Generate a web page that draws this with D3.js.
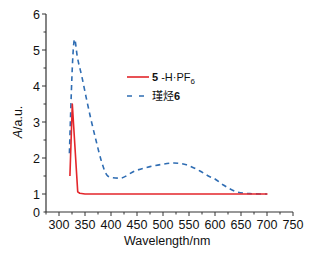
<!DOCTYPE html>
<html>
<head>
<meta charset="utf-8">
<script src="https://cdn.jsdelivr.net/npm/d3@7"></script>
<style>
  html, body { margin: 0; padding: 0; background: #fff; }
  svg { display: block; font-family: "Liberation Sans", Arial, sans-serif; }
</style>
</head>
<body>
<svg id="chart" width="314" height="259"></svg>
<script>
// ---- data ----
const redWavelength = [321, 325.6, 336, 340, 350, 400, 500, 600, 701];
const redValues     = [1.5, 3.5, 1.06, 1.02, 1.0, 1.0, 1.0, 1.0, 1.0];

const blueWavelength = [320, 330, 335, 344, 352, 361, 371, 381, 392, 400, 417, 446, 475, 497, 521, 545, 571, 590, 597, 616, 642, 667, 693, 700];
const blueValues     = [2.13, 5.3, 4.83, 4.26, 3.7, 3.1, 2.5, 1.94, 1.53, 1.46, 1.44, 1.64, 1.76, 1.82, 1.86, 1.81, 1.64, 1.48, 1.44, 1.25, 1.06, 1.01, 1.0, 1.0];

const xTicks = [300, 350, 400, 450, 500, 550, 600, 650, 700, 750];
const yTicks = [1, 2, 3, 4, 5, 6];
const yBottomLabel = "0";

// ---- layout ----
const svg = d3.select("#chart");
const x = d3.scaleLinear().domain([275, 750]).range([46, 293]);
const y = d3.scaleLinear().domain([0.5, 6]).range([212, 14]);

const red = "#e3262b";
const blue = "#2f6db3";
const axisColor = "#333";

// x axis
const xMinor = d3.range(275, 751, 25);
const gx = svg.append("g").attr("transform", `translate(0,${y(0.5)})`);
gx.append("line").attr("x1", x(275)).attr("x2", x(750)).attr("stroke", axisColor).attr("stroke-width", 1.2);
gx.selectAll("line.minor").data(xMinor).enter().append("line")
  .attr("class", "minor")
  .attr("x1", d => x(d)).attr("x2", d => x(d))
  .attr("y1", 0).attr("y2", d => (xTicks.includes(d) ? 4 : 2.5))
  .attr("stroke", axisColor).attr("stroke-width", 1);
gx.selectAll("text").data(xTicks).enter().append("text")
  .attr("x", d => x(d)).attr("y", 17)
  .attr("text-anchor", "middle")
  .attr("font-size", 12.5).attr("fill", "#111")
  .text(d => d);

// y axis
const yMinor = d3.range(0.5, 6.01, 0.5);
const gy = svg.append("g").attr("transform", `translate(${x(275)},0)`);
gy.append("line").attr("y1", y(0.5)).attr("y2", y(6)).attr("stroke", axisColor).attr("stroke-width", 1.2);
gy.selectAll("line.tick").data(yMinor).enter().append("line")
  .attr("x1", 0).attr("x2", d => (yTicks.includes(d) ? -4 : -2.5))
  .attr("y1", d => y(d)).attr("y2", d => y(d))
  .attr("stroke", axisColor).attr("stroke-width", 1);
gy.selectAll("text.lab").data(yTicks).enter().append("text")
  .attr("class", "lab")
  .attr("x", -6).attr("y", d => y(d) + 4.5)
  .attr("text-anchor", "end")
  .attr("font-size", 12.5).attr("fill", "#111")
  .text(d => d);
gy.append("text")
  .attr("x", -6).attr("y", y(0.5) + 4.5)
  .attr("text-anchor", "end")
  .attr("font-size", 12.5).attr("fill", "#111")
  .text(yBottomLabel);

// axis titles
svg.append("text")
  .attr("x", x(508)).attr("y", 245)
  .attr("text-anchor", "middle")
  .attr("font-size", 12.5).attr("fill", "#111")
  .text("Wavelength/nm");

const yt = svg.append("text")
  .attr("transform", `translate(22,${y(3.0)}) rotate(-90)`)
  .attr("text-anchor", "middle")
  .attr("font-size", 12.5).attr("fill", "#111");
yt.append("tspan").attr("font-style", "italic").text("A");
yt.append("tspan").text("/a.u.");

// lines
const line = d3.line().x(d => x(d[0])).y(d => y(d[1])).curve(d3.curveMonotoneX);
const line2 = d3.line().x(d => x(d[0])).y(d => y(d[1]));

svg.append("path")
  .datum(blueWavelength.map((w, i) => [w, blueValues[i]]))
  .attr("d", line)
  .attr("fill", "none").attr("stroke", blue).attr("stroke-width", 1.6)
  .attr("stroke-dasharray", "5,4");

svg.append("path")
  .datum(redWavelength.map((w, i) => [w, redValues[i]]))
  .attr("d", line2)
  .attr("fill", "none").attr("stroke", red).attr("stroke-width", 1.6)
  .attr("stroke-linejoin", "round");

// legend
const lg = svg.append("g");
lg.append("line").attr("x1", 127).attr("x2", 149).attr("y1", 77).attr("y2", 77)
  .attr("stroke", red).attr("stroke-width", 1.6);
const t1 = lg.append("text").attr("x", 152).attr("y", 81).attr("font-size", 11).attr("fill", "#111");
t1.append("tspan").attr("font-weight", "bold").text("5");
t1.append("tspan").text(" -H·PF");
t1.append("tspan").attr("font-size", 8).attr("dy", 3).text("6");

lg.append("line").attr("x1", 127).attr("x2", 149).attr("y1", 96).attr("y2", 96)
  .attr("stroke", blue).attr("stroke-width", 1.6).attr("stroke-dasharray", "5,7");
const t2 = lg.append("text").attr("x", 152).attr("y", 100).attr("font-size", 11).attr("fill", "#111");
t2.append("tspan").attr("font-family", "'Noto Sans CJK SC', sans-serif").text("瑾烃");
t2.append("tspan").attr("font-weight", "bold").text("6");
</script>
</body>
</html>
